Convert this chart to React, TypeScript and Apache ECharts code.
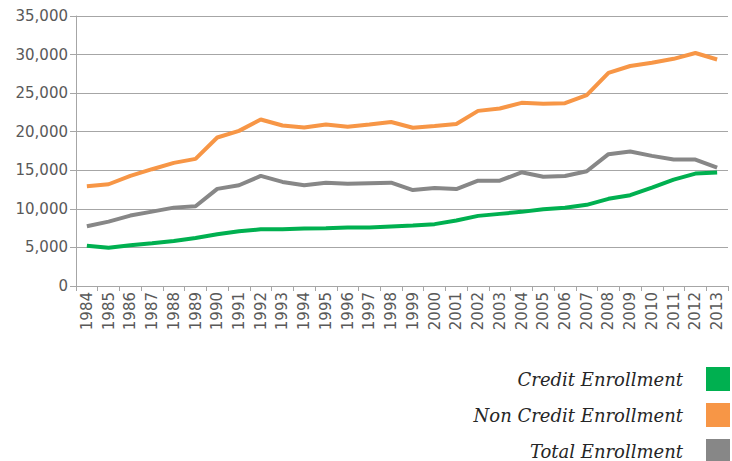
import React, { useEffect, useRef } from "react";
import * as echarts from "echarts";

const years = [
  "1984", "1985", "1986", "1987", "1988", "1989", "1990", "1991", "1992", "1993",
  "1994", "1995", "1996", "1997", "1998", "1999", "2000", "2001", "2002", "2003",
  "2004", "2005", "2006", "2007", "2008", "2009", "2010", "2011", "2012", "2013",
];

const creditEnrollment = [
  5230, 4970, 5280, 5540, 5840, 6230, 6700, 7090, 7350, 7350,
  7440, 7480, 7570, 7570, 7720, 7840, 8020, 8490, 9090, 9350,
  9610, 9960, 10130, 10520, 11300, 11770, 12760, 13790, 14570, 14700,
];

const nonCreditEnrollment = [
  12930, 13190, 14270, 15140, 15960, 16480, 19250, 20110, 21580, 20800,
  20540, 20930, 20630, 20930, 21260, 20520, 20740, 21000, 22700, 23010,
  23740, 23610, 23700, 24740, 27630, 28520, 28940, 29450, 30200, 29360,
];

const totalEnrollment = [
  7740, 8350, 9130, 9640, 10160, 10340, 12590, 13060, 14270, 13490,
  13060, 13370, 13240, 13320, 13390, 12430, 12700, 12570, 13650, 13650,
  14740, 14170, 14260, 14870, 17090, 17430, 16870, 16390, 16390, 15350,
];

const seriesNames = ["Credit Enrollment", "Non Credit Enrollment", "Total Enrollment"];
const seriesColors = ["#00b050", "#f79646", "#878787"];

export default function App() {
  const ref = useRef<HTMLDivElement>(null);

  useEffect(() => {
    if (!ref.current) return;
    const chart = echarts.init(ref.current, undefined, { renderer: "svg" });
    const data = [creditEnrollment, nonCreditEnrollment, totalEnrollment];

    const legendGraphics: any[] = [];
    seriesNames.forEach((name, i) => {
      const cy = 379 + i * 36;
      legendGraphics.push({
        type: "text",
        x: 683,
        y: cy,
        style: {
          text: name,
          fontFamily: "DejaVu Serif",
          fontStyle: "italic",
          fontSize: 18,
          fill: "#262626",
          textAlign: "right",
          textVerticalAlign: "middle",
        },
      });
      legendGraphics.push({
        type: "rect",
        shape: { x: 706, y: cy - 12, width: 24, height: 24 },
        style: { fill: seriesColors[i] },
      });
    });

    chart.setOption({
      animation: false,
      grid: { left: 76, right: 4, top: 16, bottom: 175, containLabel: false },
      xAxis: {
        type: "category",
        data: years,
        boundaryGap: true,
        axisLine: { show: true, lineStyle: { color: "#a6a6a6", width: 1 } },
        axisTick: { show: true, length: 5, alignWithLabel: false, lineStyle: { color: "#a6a6a6" } },
        axisLabel: {
          rotate: 90,
          interval: 0,
          margin: 6,
          fontFamily: "DejaVu Sans",
          fontSize: 15,
          color: "#595959",
        },
      },
      yAxis: {
        type: "value",
        min: 0,
        max: 35000,
        interval: 5000,
        axisLine: { show: true, lineStyle: { color: "#a6a6a6", width: 1 } },
        axisTick: { show: true, length: 6, lineStyle: { color: "#a6a6a6" } },
        splitLine: { show: true, lineStyle: { color: "#a6a6a6", width: 1 } },
        axisLabel: {
          margin: 8,
          fontFamily: "DejaVu Sans",
          fontSize: 15,
          color: "#595959",
          formatter: (v: number) => v.toLocaleString("en-US"),
        },
      },
      series: seriesNames.map((name, i) => ({
        name,
        type: "line",
        data: data[i],
        showSymbol: false,
        symbol: "none",
        lineStyle: { color: seriesColors[i], width: 4 },
        itemStyle: { color: seriesColors[i] },
        z: i === 0 ? 4 : 2,
      })),
      graphic: legendGraphics,
    });

    return () => chart.dispose();
  }, []);

  return (
    <div
      ref={ref}
      style={{ position: "absolute", left: 0, top: 0, width: 732, height: 461 }}
    />
  );
}
